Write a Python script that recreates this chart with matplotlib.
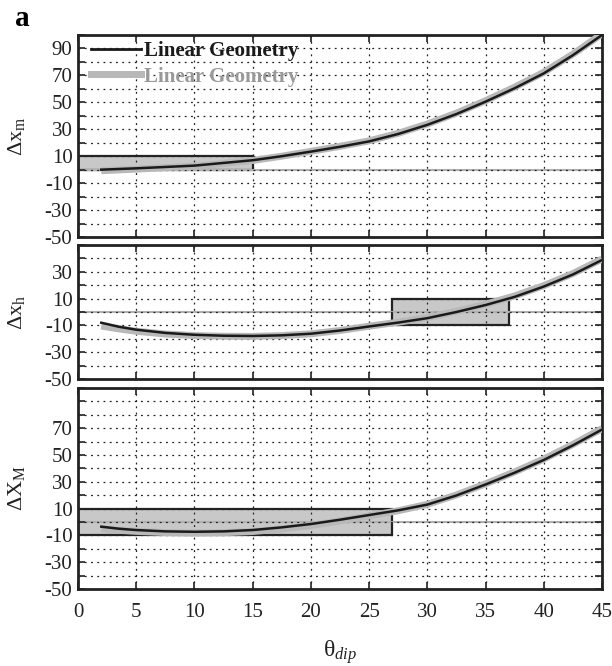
import matplotlib
matplotlib.use("Agg")
import matplotlib.pyplot as plt
from matplotlib.lines import Line2D
from matplotlib.patches import Rectangle

plt.rcParams['font.family'] = ['Liberation Serif', 'DejaVu Serif']
plt.rcParams['mathtext.fontset'] = 'custom'
plt.rcParams['mathtext.rm'] = 'Liberation Serif'
plt.rcParams['mathtext.it'] = 'Liberation Serif:italic'
plt.rcParams['mathtext.bf'] = 'Liberation Serif:bold'

# ---- data ----
theta = [2, 3.5, 5, 7.5, 10, 12.5, 15, 17.5, 20, 22.5, 25, 27.5, 30, 32.5, 35, 37.5, 40, 42.5, 45]

dxm_black = [0, 0.5, 1, 2, 3, 5, 7, 10, 13.4, 17, 21, 26.5, 33.3, 41.3, 50.5, 60.5, 71.5, 85, 100]
dxm_grey = [-0.8, -0.2, 0.4, 1.5, 2.6, 4.6, 6.8, 10, 13.6, 17.3, 21.4, 27, 33.9, 42, 51.2, 61.3, 72.3, 85.8, 100.8]

dxh_black = [-8, -11, -13.2, -15.6, -17, -17.7, -17.9, -17.4, -16.2, -13.8, -10.8, -7.9, -4.6, 0, 5.2, 11.3, 19, 28, 38.8]
dxh_grey = [-10.5, -12.6, -14.4, -16.4, -17.6, -18.1, -18.2, -17.6, -16.3, -13.8, -10.6, -7.6, -4.2, 0.5, 5.8, 12, 19.7, 28.7, 39.5]

dxM_black = [-3.5, -5, -6, -7, -7.3, -7, -6, -4, -1.5, 1.7, 5.2, 8.7, 13, 19.8, 28, 36.8, 46.3, 57.2, 69]
dxM_grey = [-5, -6.2, -7, -7.9, -8.2, -8, -7.1, -5.2, -2.6, 0.8, 4.6, 8.4, 13.2, 20.2, 28.5, 37.4, 47, 57.9, 69.7]

# rectangles: (x0, x1, y0, y1)
rect_m = (0, 15, 0, 10)
rect_h = (27, 37, -10, 10)
rect_M = (0, 27, -10, 10)

ylims = [(-50, 100), (-50, 50), (-50, 100)]
ylabel_vals = [[90, 70, 50, 30, 10, -10, -30, -50],
               [30, 10, -10, -30, -50],
               [70, 50, 30, 10, -10, -30, -50]]
ylabels = ['Δx$_\\mathregular{m}$', 'Δx$_\\mathregular{h}$', 'ΔX$_\\mathregular{M}$']
xticks = [0, 5, 10, 15, 20, 25, 30, 35, 40, 45]
legend_labels = ['Linear Geometry', 'Linear Geometry']

fig = plt.figure(figsize=(6.12, 6.66), dpi=100)
W, H = 612, 666
left, right = 78, 602
panels_px = [(35, 237), (245, 379), (388, 589)]
axes = []
for (t, b) in panels_px:
    ax = fig.add_axes([left / W, 1 - b / H, (right - left) / W, (b - t) / H])
    axes.append(ax)

blacks = [dxm_black, dxh_black, dxM_black]
greys = [dxm_grey, dxh_grey, dxM_grey]
rects = [rect_m, rect_h, rect_M]

for i, ax in enumerate(axes):
    lo, hi = ylims[i]
    ax.set_xlim(0, 45)
    ax.set_ylim(lo, hi)
    r = rects[i]
    ax.add_patch(Rectangle((r[0], r[2]), r[1] - r[0], r[3] - r[2],
                           facecolor='#c8c8c8', edgecolor='#222222', lw=1.6, zorder=1))
    ax.axhline(0, color='#b0b0b0', lw=1.5, zorder=1.5)
    ax.plot(theta, greys[i], color='#b8b8b8', lw=5, solid_capstyle='butt',
            solid_joinstyle='round', zorder=3)
    ax.plot(theta, blacks[i], color='#1a1a1a', lw=1.8, solid_joinstyle='round', zorder=4)
    yt = list(range(lo, hi + 1, 10))
    ax.set_yticks(yt)
    ax.set_yticklabels([str(v) if v in ylabel_vals[i] else '' for v in yt])
    ax.set_xticks(xticks)
    ax.grid(True, which='major', color='#222222', linestyle=(0, (1.5, 3.5)), lw=0.9, zorder=2)
    ax.tick_params(direction='in', length=5, width=1.2, top=True, right=True,
                   labelsize=15, pad=4, colors='#222222', labelcolor='#222222')
    for s in ax.spines.values():
        s.set_linewidth(2)
        s.set_color('#222222')
    ax.set_ylabel(ylabels[i], fontsize=16, color='#222222')
    ax.yaxis.set_label_coords(-0.098, 0.5)
    if i < 2:
        ax.set_xticklabels([])
    else:
        ax.set_xticklabels([str(v) for v in xticks])
        ax.tick_params(axis='x', pad=10)
        ax.set_xlabel('θ$_{dip}$', fontsize=17, color='#222222', labelpad=12)

handles = [Line2D([], [], color='#1a1a1a', lw=2),
           Line2D([], [], color='#b8b8b8', lw=5)]
leg = axes[0].legend(handles, legend_labels, loc='upper left', bbox_to_anchor=(0.008, 1.01),
                     frameon=False, handlelength=2.4, handletextpad=0.15, labelspacing=0.25,
                     borderaxespad=0, prop={'weight': 'bold', 'size': 15})
leg.get_texts()[0].set_color('#1a1a1a')
leg.get_texts()[1].set_color('#999999')

fig.text(22 / W, 1 - 18 / H, 'a', fontsize=21, fontweight='bold', ha='center', va='center')

fig.savefig('out.png', dpi=100)
